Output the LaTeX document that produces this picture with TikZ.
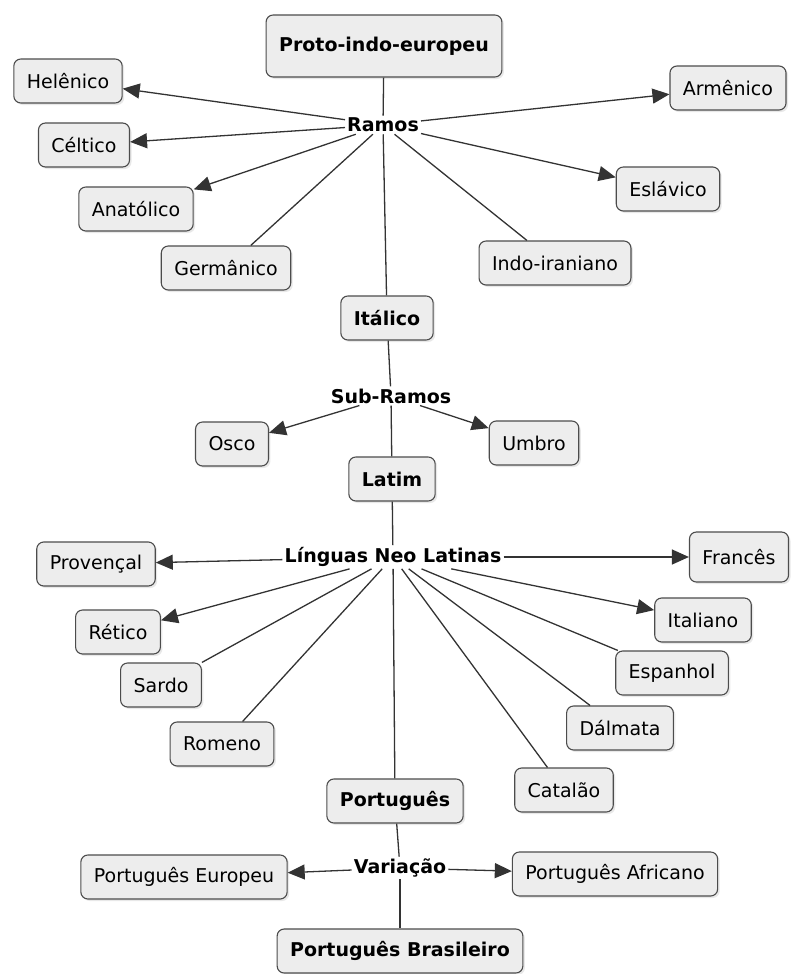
\documentclass[tikz,border=0pt]{standalone}
\usepackage{fontspec}
\setmainfont{DejaVu Sans}
\usetikzlibrary{arrows.meta,shadows}

\tikzset{
  conceito/.style={draw=black!70, fill=black!7, rounded corners=7pt, line width=1.1pt,
    minimum height=44pt, inner xsep=13pt, font=\fontsize{19}{22}\selectfont,
    drop shadow={opacity=0.18, shadow xshift=2pt, shadow yshift=-2pt}},
  negrito/.style={conceito, font=\fontsize{19}{22}\selectfont\bfseries},
  enlace/.style={fill=white, inner sep=2pt, font=\fontsize{19}{22}\selectfont\bfseries},
  liga/.style={draw=black!80, line width=1.3pt},
  seta/.style={liga, -{Triangle[length=17pt,width=15pt]}}
}

\begin{document}
\begin{tikzpicture}[x=1pt, y=-1pt]
            \useasboundingbox (0, 0) rectangle (790, 974);
            \node[negrito, minimum height=62pt, inner xsep=13pt] (proto) at (384, 46) {Proto-indo-europeu};
            \node[enlace] (ramos) at (383, 125) {Ramos};
            \node[conceito] (helenico) at (68, 81) {Helênico};
            \node[conceito] (armenico) at (728, 88) {Armênico};
            \node[conceito] (celtico) at (84, 145) {Céltico};
            \node[conceito] (anatolico) at (136, 209) {Anatólico};
            \node[conceito] (eslavico) at (668, 189) {Eslávico};
            \node[conceito] (germanico) at (226, 268) {Germânico};
            \node[conceito] (indoiraniano) at (555, 263) {Indo-iraniano};
            \node[negrito] (italico) at (387, 318) {Itálico};
            \node[enlace] (subramos) at (391, 396) {Sub-Ramos};
            \node[conceito] (osco) at (232, 444) {Osco};
            \node[conceito] (umbro) at (534, 443) {Umbro};
            \node[negrito] (latim) at (392, 479) {Latim};
            \node[enlace] (neolatinas) at (393, 557) {Línguas Neo Latinas};
            \node[conceito] (provencal) at (96, 564) {Provençal};
            \node[conceito, minimum height=50pt] (frances) at (739, 557) {Francês};
            \node[conceito] (italiano) at (703, 620) {Italiano};
            \node[conceito] (retico) at (118, 632) {Rético};
            \node[conceito] (sardo) at (161, 685) {Sardo};
            \node[conceito] (romeno) at (222, 744) {Romeno};
            \node[conceito] (espanhol) at (672, 673) {Espanhol};
            \node[conceito] (dalmata) at (620, 728) {Dálmata};
            \node[conceito] (catalao) at (564, 790) {Catalão};
            \node[negrito] (portugues) at (395, 801) {Português};
            \node[enlace] (variacao) at (400, 868) {Variação};
            \node[conceito] (europeu) at (184, 877) {Português Europeu};
            \node[conceito] (africano) at (615, 874) {Português Africano};
            \node[negrito] (brasileiro) at (400, 951) {Português Brasileiro};

            \draw[liga] (proto) -- (ramos);
            \draw[seta] (ramos) -- (helenico);
            \draw[seta] (ramos) -- (armenico);
            \draw[seta] (ramos) -- (celtico);
            \draw[seta] (ramos) -- (anatolico);
            \draw[seta] (ramos) -- (eslavico);
            \draw[liga] (ramos) -- (germanico);
            \draw[liga] (ramos) -- (indoiraniano);
            \draw[liga] (ramos) -- (italico);
            \draw[liga] (italico) -- (subramos);
            \draw[seta] (subramos) -- (osco);
            \draw[seta] (subramos) -- (umbro);
            \draw[liga] (subramos) -- (latim);
            \draw[liga] (latim) -- (neolatinas);
            \draw[seta] (neolatinas) -- (provencal);
            \draw[seta] (neolatinas) -- (frances);
            \draw[seta] (neolatinas) -- (retico);
            \draw[seta] (neolatinas) -- (italiano);
            \draw[liga] (neolatinas) -- (sardo);
            \draw[liga] (neolatinas) -- (romeno);
            \draw[liga] (neolatinas) -- (portugues);
            \draw[liga] (neolatinas) -- (catalao);
            \draw[liga] (neolatinas) -- (dalmata);
            \draw[liga] (neolatinas) -- (espanhol);
            \draw[liga] (portugues) -- (variacao);
            \draw[seta] (variacao) -- (europeu);
            \draw[seta] (variacao) -- (africano);
            \draw[liga] (variacao) -- (brasileiro);
        \end{tikzpicture}
\end{document}
